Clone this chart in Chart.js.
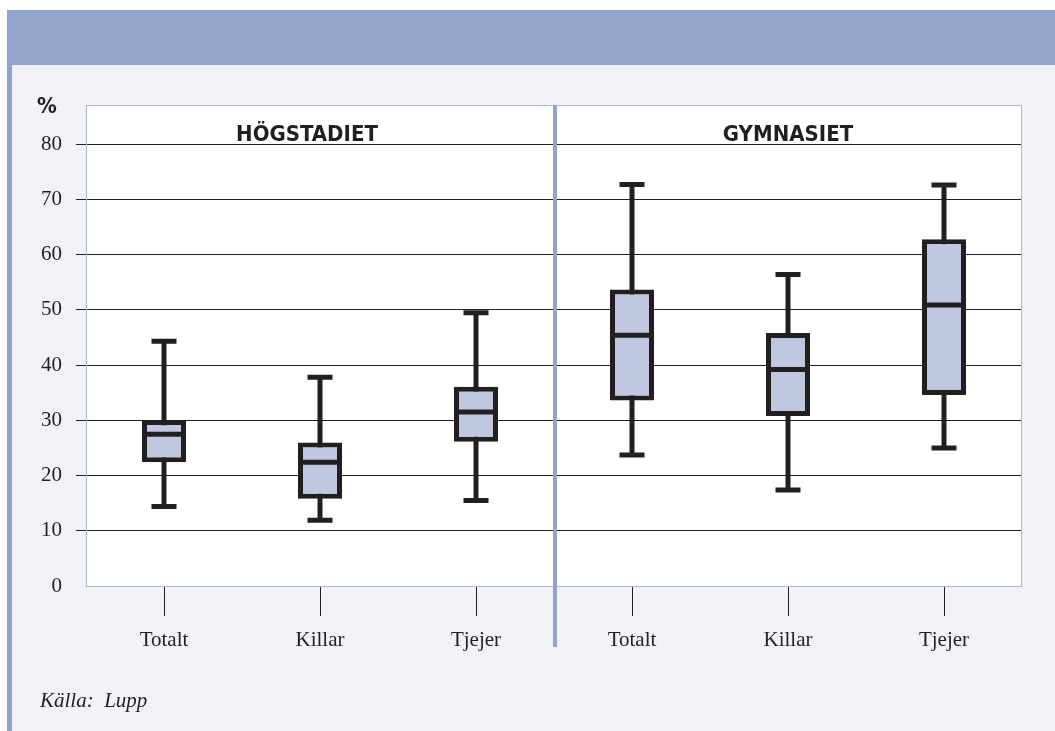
<!DOCTYPE html>
<html>
<head>
<meta charset="utf-8">
<script src="https://cdn.jsdelivr.net/npm/chart.js@4"></script>
<style>
  body { margin: 0; background: #ffffff; }
  #header { position: absolute; left: 7px; top: 10px; width: 1048px; height: 55px; background: #91a4ca; }
  #panel { position: absolute; left: 7px; top: 65px; width: 1043px; height: 666px; background: #f0f2f7; border-left: 5px solid #91a4ca; }
  #c { position: absolute; left: 0; top: 0; }
</style>
</head>
<body>
<div id="header"></div>
<div id="panel"></div>
<canvas id="c" width="1055" height="731"></canvas>
<script>
// data (percent)
const categories = ['Totalt', 'Killar', 'Tjejer', 'Totalt', 'Killar', 'Tjejer'];
const groups = ['HÖGSTADIET', 'GYMNASIET'];
const minVals = [14.4, 11.9, 15.5, 23.7, 17.4, 25.0];
const q1Vals = [22.4, 15.8, 26.1, 33.6, 30.8, 34.6];
const medianVals = [27.5, 22.4, 31.5, 45.4, 39.2, 50.9];
const q3Vals = [30.0, 26.0, 36.1, 53.7, 45.8, 62.8];
const maxVals = [44.3, 37.8, 49.5, 72.7, 56.4, 72.6];
const yTicks = [0, 10, 20, 30, 40, 50, 60, 70, 80];
const source = 'Källa:  Lupp';

const ink = '#231f20';
const boxFill = '#bfc8e0';
const blue = '#91a4ca';
const headFont = "bold 22px 'DejaVu Sans Condensed', 'Liberation Sans', sans-serif";

Chart.defaults.font.family = "'Liberation Serif', serif";
Chart.defaults.font.size = 21;
Chart.defaults.color = ink;

// white plot area, thin border, panel divider and the texts
const decor = {
    id: 'decor',
    beforeDraw(chart) {
        const a = chart.chartArea;
        const ctx = chart.ctx;
        ctx.save();
        ctx.fillStyle = '#ffffff';
        ctx.fillRect(a.left, a.top, a.right - a.left, a.bottom - a.top);
        ctx.restore();
    },
    afterDraw(chart) {
        const a = chart.chartArea;
        const ctx = chart.ctx;
        const x = chart.scales.x;
        ctx.save();
        ctx.strokeStyle = '#a9b8dc';
        ctx.lineWidth = 1;
        ctx.strokeRect(a.left + 0.5, a.top + 0.5, a.right - a.left - 1, a.bottom - a.top);

        // divider between the two school groups
        const mid = (x.getPixelForValue(2) + x.getPixelForValue(3)) / 2 + 1;
        ctx.fillStyle = blue;
        ctx.fillRect(mid - 2, a.top, 4, 647 - a.top);

        ctx.fillStyle = ink;
        ctx.font = headFont;
        ctx.textAlign = 'center';
        ctx.textBaseline = 'alphabetic';
        ctx.fillText(groups[0], x.getPixelForValue(1) - 13, 141);
        ctx.fillText(groups[1], x.getPixelForValue(4), 141);

        ctx.textAlign = 'left';
        ctx.fillText('%', 37, 113);

        ctx.font = "italic 21px 'Liberation Serif', serif";
        ctx.fillText(source, 40, 707);
        ctx.restore();
    }
};

new Chart(document.getElementById('c'), {
    type: 'bar',
    data: {
        labels: categories,
        datasets: [
            {
                label: 'median',
                type: 'line',
                data: medianVals,
                showLine: false,
                pointStyle: 'line',
                pointRadius: 22,
                pointBorderWidth: 5,
                pointBorderColor: ink,
                order: 0
            },
            {
                label: 'max',
                type: 'line',
                data: maxVals,
                showLine: false,
                pointStyle: 'line',
                pointRadius: 12.5,
                pointBorderWidth: 5,
                pointBorderColor: ink,
                order: 0
            },
            {
                label: 'min',
                type: 'line',
                data: minVals,
                showLine: false,
                pointStyle: 'line',
                pointRadius: 12.5,
                pointBorderWidth: 5,
                pointBorderColor: ink,
                order: 0
            },
            {
                label: 'box',
                data: q1Vals.map((q, i) => [q, q3Vals[i]]),
                backgroundColor: boxFill,
                borderColor: ink,
                borderWidth: 5,
                borderSkipped: false,
                inflateAmount: 0,
                barThickness: 44,
                grouped: false,
                order: 1
            },
            {
                label: 'whisker',
                data: minVals.map((m, i) => [m, maxVals[i]]),
                backgroundColor: ink,
                borderWidth: 0,
                inflateAmount: 0,
                barThickness: 5,
                grouped: false,
                order: 2
            }
        ]
    },
    options: {
        responsive: false,
        animation: false,
        layout: { padding: { left: 26, right: 33, top: 105, bottom: 75 } },
        plugins: {
            legend: { display: false },
            tooltip: { enabled: false }
        },
        scales: {
            x: {
                offset: true,
                grid: {
                    offset: false,
                    drawOnChartArea: false,
                    color: ink,
                    tickLength: 30
                },
                border: { display: false },
                ticks: { padding: 12, color: ink },
                afterFit: s => { s.height = 70; }
            },
            y: {
                min: 0,
                max: 87.1,
                ticks: { stepSize: 10, padding: 14, color: ink },
                afterBuildTicks: s => {
                    s.ticks = yTicks.map(v => ({ value: v }));
                },
                grid: {
                    color: c => (c.tick && c.tick.value === 0) ? 'rgba(0,0,0,0)' : ink,
                    lineWidth: 1,
                    tickLength: 10
                },
                border: { display: false },
                afterFit: s => { s.width = 60; }
            }
        }
    },
    plugins: [decor]
});
</script>
</body>
</html>
